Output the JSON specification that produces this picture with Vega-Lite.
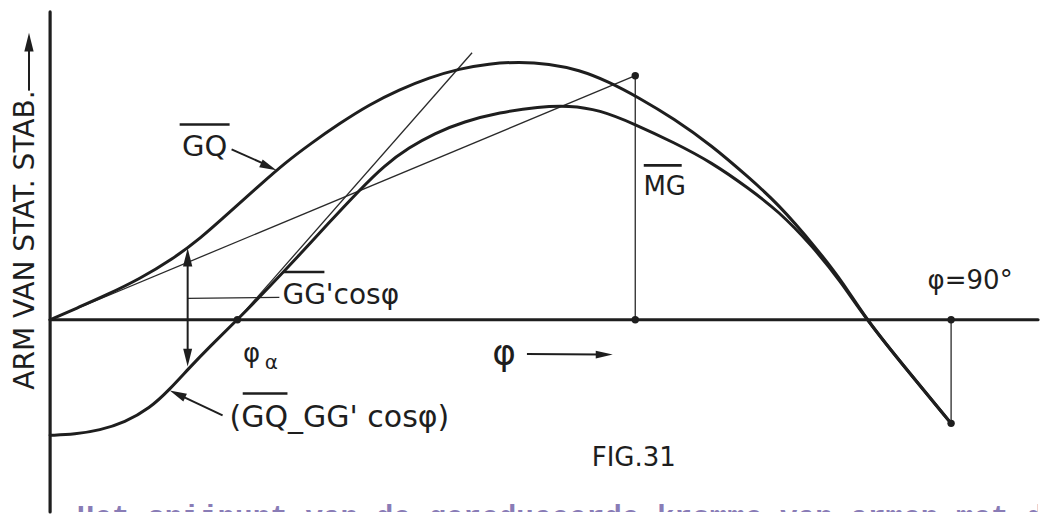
{
  "$schema": "https://vega.github.io/schema/vega-lite/v6.json",
  "width": 1040,
  "height": 514,
  "autosize": {"type": "fit", "contains": "padding"},
  "padding": 0,
  "background": "white",
  "config": {"view": {"stroke": null}},
  "datasets": {
    "curves": [
      {"series": "GQ", "phi": 0, "arm": 0},
      {"series": "GQ", "phi": 2.97, "arm": 0.13},
      {"series": "GQ", "phi": 5.66, "arm": 0.25},
      {"series": "GQ", "phi": 8.95, "arm": 0.41},
      {"series": "GQ", "phi": 12.24, "arm": 0.61},
      {"series": "GQ", "phi": 14.94, "arm": 0.81},
      {"series": "GQ", "phi": 17.93, "arm": 1.08},
      {"series": "GQ", "phi": 20.92, "arm": 1.35},
      {"series": "GQ", "phi": 23.41, "arm": 1.57},
      {"series": "GQ", "phi": 25.91, "arm": 1.76},
      {"series": "GQ", "phi": 28.9, "arm": 1.97},
      {"series": "GQ", "phi": 31.89, "arm": 2.16},
      {"series": "GQ", "phi": 34.88, "arm": 2.31},
      {"series": "GQ", "phi": 37.87, "arm": 2.43},
      {"series": "GQ", "phi": 40.86, "arm": 2.52},
      {"series": "GQ", "phi": 43.85, "arm": 2.57},
      {"series": "GQ", "phi": 46.84, "arm": 2.59},
      {"series": "GQ", "phi": 49.83, "arm": 2.57},
      {"series": "GQ", "phi": 52.82, "arm": 2.51},
      {"series": "GQ", "phi": 55.81, "arm": 2.39},
      {"series": "GQ", "phi": 58.8, "arm": 2.23},
      {"series": "GQ", "phi": 62.29, "arm": 2.02},
      {"series": "GQ", "phi": 66.08, "arm": 1.75},
      {"series": "GQ", "phi": 69.77, "arm": 1.43},
      {"series": "GQ", "phi": 72.76, "arm": 1.16},
      {"series": "GQ", "phi": 76.45, "arm": 0.73},
      {"series": "GQ", "phi": 79.24, "arm": 0.37},
      {"series": "GQ", "phi": 81.54, "arm": 0},
      {"series": "GQ", "phi": 85.72, "arm": -0.52},
      {"series": "GQ", "phi": 90, "arm": -1.04},
      {"series": "reduced", "phi": 0, "arm": -1.16},
      {"series": "reduced", "phi": 2.47, "arm": -1.15},
      {"series": "reduced", "phi": 4.97, "arm": -1.11},
      {"series": "reduced", "phi": 7.46, "arm": -1.03},
      {"series": "reduced", "phi": 9.95, "arm": -0.89},
      {"series": "reduced", "phi": 11.94, "arm": -0.7},
      {"series": "reduced", "phi": 13.84, "arm": -0.49},
      {"series": "reduced", "phi": 15.93, "arm": -0.27},
      {"series": "reduced", "phi": 18.71, "arm": 0},
      {"series": "reduced", "phi": 21.9, "arm": 0.33},
      {"series": "reduced", "phi": 24.91, "arm": 0.65},
      {"series": "reduced", "phi": 27.9, "arm": 0.98},
      {"series": "reduced", "phi": 30.89, "arm": 1.3},
      {"series": "reduced", "phi": 33.38, "arm": 1.55},
      {"series": "reduced", "phi": 35.87, "arm": 1.73},
      {"series": "reduced", "phi": 38.36, "arm": 1.87},
      {"series": "reduced", "phi": 41.35, "arm": 1.99},
      {"series": "reduced", "phi": 44.85, "arm": 2.08},
      {"series": "reduced", "phi": 48.84, "arm": 2.14},
      {"series": "reduced", "phi": 51.84, "arm": 2.15},
      {"series": "reduced", "phi": 54.82, "arm": 2.11},
      {"series": "reduced", "phi": 58.5, "arm": 1.96},
      {"series": "reduced", "phi": 62.29, "arm": 1.78},
      {"series": "reduced", "phi": 66.08, "arm": 1.58},
      {"series": "reduced", "phi": 69.77, "arm": 1.32},
      {"series": "reduced", "phi": 72.76, "arm": 1.09},
      {"series": "reduced", "phi": 76.05, "arm": 0.75},
      {"series": "reduced", "phi": 78.94, "arm": 0.39},
      {"series": "reduced", "phi": 81.54, "arm": 0},
      {"series": "reduced", "phi": 85.72, "arm": -0.52},
      {"series": "reduced", "phi": 90, "arm": -1.04}
    ],
    "axes": [
      {"name": "phi axis", "phi": 0, "arm": 0, "phi2": 98.68, "arm2": 0},
      {"name": "arm axis", "phi": 0, "arm": -1.93, "phi2": 0, "arm2": 3.09}
    ],
    "construction": [
      {"name": "tangent at origin", "phi": 0, "arm": 0, "phi2": 58.45, "arm2": 2.45},
      {"name": "tangent at phi_a", "phi": 18.71, "arm": 0, "phi2": 42.15, "arm2": 2.68},
      {"name": "MG", "phi": 58.45, "arm": 0, "phi2": 58.45, "arm2": 2.45},
      {"name": "phi 90", "phi": 90, "arm": 0, "phi2": 90, "arm2": -1.04},
      {"name": "GG' leader", "phi": 13.74, "arm": 0.215, "phi2": 22.9, "arm2": 0.225}
    ],
    "shafts": [
      {"name": "GG'cos", "phi": 13.74, "arm": 0.6, "phi2": 13.74, "arm2": -0.36},
      {"name": "GQ pointer", "phi": 18.13, "arm": 1.71, "phi2": 21.6, "arm2": 1.555},
      {"name": "reduced pointer", "phi": 17.23, "arm": -0.96, "phi2": 13.1, "arm2": -0.765},
      {"name": "phi direction", "phi": 47.63, "arm": -0.345, "phi2": 55.0, "arm2": -0.35},
      {"name": "arm direction", "phi": -2.11, "arm": 2.3, "phi2": -2.11, "arm2": 2.7}
    ],
    "heads": [
      {"name": "GG'cos top", "dir": "up", "phi": 13.74, "arm": 0.72},
      {"name": "GG'cos bottom", "dir": "down", "phi": 13.74, "arm": -0.47},
      {"name": "arm direction", "dir": "up", "phi": -2.11, "arm": 2.88},
      {"name": "phi direction", "dir": "right", "phi": 56.2, "arm": -0.35},
      {"name": "GQ pointer", "dir": "gq", "phi": 22.61, "arm": 1.5},
      {"name": "reduced pointer", "dir": "reduced", "phi": 11.95, "arm": -0.71}
    ],
    "dots": [
      {"name": "phi_a", "phi": 18.71, "arm": 0},
      {"name": "M", "phi": 58.45, "arm": 2.45},
      {"name": "MG foot", "phi": 58.45, "arm": 0},
      {"name": "90 foot", "phi": 90, "arm": 0},
      {"name": "90 end", "phi": 90, "arm": -1.04}
    ],
    "overbars": [
      {"name": "GQ", "phi": 12.94, "arm": 1.96, "phi2": 17.93, "arm2": 1.96},
      {"name": "MG", "phi": 59.3, "arm": 1.55, "phi2": 63.09, "arm2": 1.55},
      {"name": "GG'", "phi": 23.31, "arm": 0.48, "phi2": 27.4, "arm2": 0.48},
      {"name": "(GQ", "phi": 19.24, "arm": -0.74, "phi2": 23.71, "arm2": -0.74}
    ],
    "centredLabels": [
      {"text": "MG", "phi": 61.39, "arm": 1.33},
      {"text": "φ=90°", "phi": 91.9, "arm": 0.39},
      {"text": "φ", "phi": 20.12, "arm": -0.34},
      {"text": "FIG.31", "phi": 58.3, "arm": -1.39}
    ],
    "gqLabel": [
      {"text": "GQ", "phi": 15.43, "arm": 1.73}
    ],
    "cosLabel": [
      {"text": "GG'cosφ", "phi": 23.21, "arm": 0.24}
    ],
    "reducedLabel": [
      {"text": "(GQ_GG' cosφ)", "phi": 17.92, "arm": -0.99}
    ],
    "subscripts": [
      {"text": "α", "phi": 22.11, "arm": -0.43}
    ],
    "bigLabels": [
      {"text": "φ", "phi": 45.34, "arm": -0.34}
    ],
    "armTitle": [
      {"text": "ARM VAN STAT. STAB.", "phi": -2.45, "arm": 0.8}
    ],
    "pageText": [
      {"text": "Het snijpunt van de gereduceerde kromme van armen met de", "phi": 2.67, "arm": -2.07}
    ]
  },
  "encoding": {
    "x": {"field": "phi", "type": "quantitative", "scale": {"domain": [-5.005, 98.68], "nice": false, "zero": false}, "axis": null},
    "y": {"field": "arm", "type": "quantitative", "scale": {"domain": [-1.93, 3.21], "nice": false, "zero": false}, "axis": null}
  },
  "layer": [
    {
      "data": {"name": "axes"},
      "mark": {"type": "rule", "strokeWidth": 3.2, "color": "#1e1e1e", "strokeCap": "round"},
      "encoding": {"x2": {"field": "phi2"}, "y2": {"field": "arm2"}}
    },
    {
      "data": {"name": "construction"},
      "mark": {"type": "rule", "strokeWidth": 1.3, "color": "#2a2a2a"},
      "encoding": {"x2": {"field": "phi2"}, "y2": {"field": "arm2"}}
    },
    {
      "data": {"name": "curves"},
      "mark": {"type": "line", "strokeWidth": 3, "color": "#1e1e1e", "interpolate": "basis", "strokeCap": "round"},
      "encoding": {"detail": {"field": "series"}}
    },
    {
      "data": {"name": "shafts"},
      "mark": {"type": "rule", "strokeWidth": 2, "color": "#1e1e1e"},
      "encoding": {"x2": {"field": "phi2"}, "y2": {"field": "arm2"}}
    },
    {
      "data": {"name": "overbars"},
      "mark": {"type": "rule", "strokeWidth": 2.6, "color": "#1e1e1e"},
      "encoding": {"x2": {"field": "phi2"}, "y2": {"field": "arm2"}}
    },
    {
      "data": {"name": "dots"},
      "mark": {"type": "point", "filled": true, "size": 55, "opacity": 1, "color": "#1e1e1e"}
    },
    {
      "data": {"name": "heads"},
      "transform": [{"filter": "datum.dir === 'up'"}],
      "mark": {"type": "point", "shape": "M0,0 L-2.4,-0.6 L-2.4,0.6 Z", "angle": 270, "filled": true, "size": 240, "opacity": 1, "color": "#1e1e1e"}
    },
    {
      "data": {"name": "heads"},
      "transform": [{"filter": "datum.dir === 'down'"}],
      "mark": {"type": "point", "shape": "M0,0 L-2.4,-0.6 L-2.4,0.6 Z", "angle": 90, "filled": true, "size": 220, "opacity": 1, "color": "#1e1e1e"}
    },
    {
      "data": {"name": "heads"},
      "transform": [{"filter": "datum.dir === 'right'"}],
      "mark": {"type": "point", "shape": "M0,0 L-2.4,-0.55 L-2.4,0.55 Z", "angle": 0, "filled": true, "size": 200, "opacity": 1, "color": "#1e1e1e"}
    },
    {
      "data": {"name": "heads"},
      "transform": [{"filter": "datum.dir === 'gq'"}],
      "mark": {"type": "point", "shape": "M0,0 L-2.4,-0.6 L-2.4,0.6 Z", "angle": 24, "filled": true, "size": 200, "opacity": 1, "color": "#1e1e1e"}
    },
    {
      "data": {"name": "heads"},
      "transform": [{"filter": "datum.dir === 'reduced'"}],
      "mark": {"type": "point", "shape": "M0,0 L-2.4,-0.6 L-2.4,0.6 Z", "angle": 205, "filled": true, "size": 200, "opacity": 1, "color": "#1e1e1e"}
    },
    {
      "data": {"name": "centredLabels"},
      "mark": {"type": "text", "font": "DejaVu Sans", "fontSize": 26, "align": "center", "baseline": "middle", "color": "#1e1e1e"},
      "encoding": {"text": {"field": "text"}}
    },
    {
      "data": {"name": "gqLabel"},
      "mark": {"type": "text", "font": "DejaVu Sans", "fontSize": 29, "align": "center", "baseline": "middle", "color": "#1e1e1e"},
      "encoding": {"text": {"field": "text"}}
    },
    {
      "data": {"name": "cosLabel"},
      "mark": {"type": "text", "font": "DejaVu Sans", "fontSize": 28, "align": "left", "baseline": "middle", "color": "#1e1e1e"},
      "encoding": {"text": {"field": "text"}}
    },
    {
      "data": {"name": "reducedLabel"},
      "mark": {"type": "text", "font": "DejaVu Sans", "fontSize": 30, "align": "left", "baseline": "middle", "color": "#1e1e1e"},
      "encoding": {"text": {"field": "text"}}
    },
    {
      "data": {"name": "subscripts"},
      "mark": {"type": "text", "font": "DejaVu Sans", "fontSize": 20, "align": "center", "baseline": "middle", "color": "#1e1e1e"},
      "encoding": {"text": {"field": "text"}}
    },
    {
      "data": {"name": "bigLabels"},
      "mark": {"type": "text", "font": "DejaVu Sans", "fontSize": 36, "align": "center", "baseline": "middle", "color": "#1e1e1e"},
      "encoding": {"text": {"field": "text"}}
    },
    {
      "data": {"name": "armTitle"},
      "mark": {"type": "text", "font": "DejaVu Sans", "fontSize": 28, "angle": 270, "align": "center", "baseline": "middle", "color": "#1e1e1e"},
      "encoding": {"text": {"field": "text"}}
    },
    {
      "data": {"name": "pageText"},
      "mark": {"type": "text", "font": "Liberation Mono", "fontSize": 29.3, "fontWeight": "bold", "align": "left", "baseline": "alphabetic", "color": "#7566aa", "opacity": 0.85, "clip": true},
      "encoding": {"text": {"field": "text"}}
    }
  ]
}
